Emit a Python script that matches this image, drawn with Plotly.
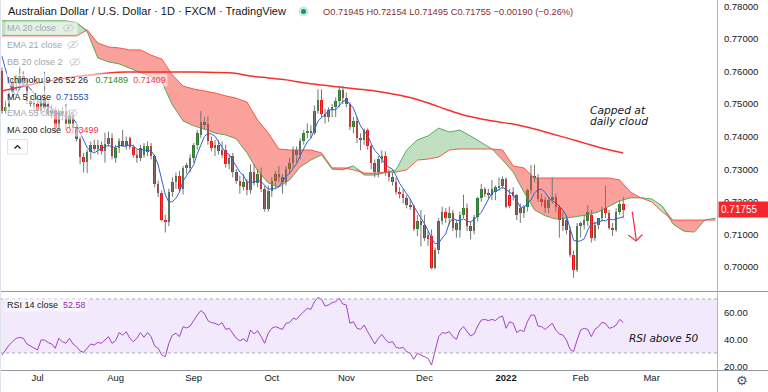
import pandas as pd
import plotly.graph_objects as go

# ---------------- data ----------------
days = pd.bdate_range("2021-06-17", periods=202).strftime("%Y-%m-%d").tolist()

month_ticks = ["2021-07-01", "2021-08-02", "2021-09-01", "2021-10-01", "2021-11-01",
               "2021-12-01", "2022-01-03", "2022-02-01", "2022-03-01"]
month_labels = ["Jul", "Aug", "Sep", "Oct", "Nov", "Dec", "<b>2022</b>", "Feb", "Mar"]

opens = [
    0.7600, 0.7478, 0.7490, 0.7537, 0.7568, 0.7560, 0.7585, 0.7565, 0.7510, 0.7500,
    0.7500, 0.7478, 0.7518, 0.7500, 0.7470, 0.7482, 0.7426, 0.7470, 0.7480, 0.7440,
    0.7465, 0.7430, 0.7392, 0.7338, 0.7322, 0.7353, 0.7374, 0.7362, 0.7375, 0.7355,
    0.7378, 0.7395, 0.7335, 0.7366, 0.7385, 0.7372, 0.7395, 0.7368, 0.7345, 0.7335,
    0.7345, 0.7352, 0.7370, 0.7340, 0.7255, 0.7228, 0.7145, 0.7138, 0.7230, 0.7262,
    0.7280, 0.7240, 0.7305, 0.7305, 0.7335, 0.7375, 0.7405, 0.7445, 0.7440, 0.7385,
    0.7365, 0.7375, 0.7358, 0.7360, 0.7315, 0.7340, 0.7290, 0.7265, 0.7245, 0.7262,
    0.7235, 0.7292, 0.7258, 0.7285, 0.7240, 0.7178, 0.7232, 0.7265, 0.7285, 0.7275,
    0.7262, 0.7300, 0.7318, 0.7360, 0.7345, 0.7385, 0.7412, 0.7418, 0.7412, 0.7480,
    0.7512, 0.7470, 0.7460, 0.7482, 0.7490, 0.7508, 0.7542, 0.7518, 0.7500, 0.7430,
    0.7448, 0.7395, 0.7390, 0.7420, 0.7370, 0.7318, 0.7290, 0.7332, 0.7342, 0.7290,
    0.7275, 0.7262, 0.7230, 0.7225, 0.7212, 0.7190, 0.7186, 0.7117, 0.7140, 0.7130,
    0.7098, 0.7095, 0.6998, 0.7052, 0.7140, 0.7170, 0.7150, 0.7165, 0.7135, 0.7115,
    0.7160, 0.7180, 0.7125, 0.7110, 0.7153, 0.7211, 0.7239, 0.7228, 0.7222, 0.7230,
    0.7245, 0.7250, 0.7270, 0.7220, 0.7230, 0.7221, 0.7181, 0.7166, 0.7184, 0.7235,
    0.7280, 0.7272, 0.7210, 0.7206, 0.7180, 0.7205, 0.7215, 0.7185, 0.7150, 0.7145,
    0.7114, 0.7037, 0.6990, 0.7125, 0.7130, 0.7140, 0.7160, 0.7088, 0.7130, 0.7150,
    0.7181, 0.7165, 0.7120, 0.7112, 0.7168, 0.71945,
]
highs = [
    0.7612, 0.7510, 0.7545, 0.7575, 0.7590, 0.7617, 0.7600, 0.7575, 0.7525, 0.7525,
    0.7510, 0.7525, 0.7599, 0.7510, 0.7495, 0.7490, 0.7485, 0.7490, 0.7500, 0.7480,
    0.7475, 0.7440, 0.7400, 0.7350, 0.7360, 0.7385, 0.7390, 0.7390, 0.7385, 0.7412,
    0.7415, 0.7410, 0.7375, 0.7395, 0.7420, 0.7400, 0.7400, 0.7375, 0.7360, 0.7375,
    0.7380, 0.7385, 0.7380, 0.7345, 0.7265, 0.7235, 0.7160, 0.7240, 0.7275, 0.7290,
    0.7295, 0.7310, 0.7320, 0.7345, 0.7380, 0.7420, 0.7478, 0.7460, 0.7462, 0.7400,
    0.7390, 0.7390, 0.7385, 0.7375, 0.7345, 0.7350, 0.7300, 0.7280, 0.7285, 0.7270,
    0.7315, 0.7315, 0.7300, 0.7305, 0.7250, 0.7250, 0.7275, 0.7295, 0.7310, 0.7285,
    0.7310, 0.7335, 0.7370, 0.7370, 0.7395, 0.7420, 0.7440, 0.7435, 0.7495, 0.7545,
    0.7545, 0.7485, 0.7490, 0.7500, 0.7520, 0.7556, 0.7556, 0.7535, 0.7505, 0.7460,
    0.7460, 0.7410, 0.7425, 0.7425, 0.7375, 0.7330, 0.7340, 0.7358, 0.7355, 0.7300,
    0.7290, 0.7275, 0.7245, 0.7240, 0.7220, 0.7210, 0.7192, 0.7160, 0.7175, 0.7160,
    0.7110, 0.7115, 0.7060, 0.7150, 0.7185, 0.7180, 0.7185, 0.7175, 0.7145, 0.7170,
    0.7222, 0.7195, 0.7140, 0.7160, 0.7215, 0.7255, 0.7245, 0.7240, 0.7267, 0.7250,
    0.7275, 0.7278, 0.7275, 0.7240, 0.7245, 0.7225, 0.7195, 0.7190, 0.7240, 0.7313,
    0.7314, 0.7285, 0.7225, 0.7215, 0.7215, 0.7275, 0.7225, 0.7190, 0.7170, 0.7160,
    0.7125, 0.7050, 0.7135, 0.7140, 0.7160, 0.7190, 0.7175, 0.7140, 0.7150, 0.7185,
    0.7250, 0.7175, 0.7135, 0.7180, 0.7205, 0.72154,
]
lows = [
    0.7470, 0.7470, 0.7480, 0.7520, 0.7540, 0.7550, 0.7555, 0.7500, 0.7490, 0.7480,
    0.7470, 0.7470, 0.7480, 0.7465, 0.7455, 0.7410, 0.7420, 0.7450, 0.7420, 0.7425,
    0.7415, 0.7385, 0.7315, 0.7290, 0.7288, 0.7330, 0.7355, 0.7345, 0.7345, 0.7320,
    0.7370, 0.7330, 0.7320, 0.7350, 0.7368, 0.7360, 0.7360, 0.7335, 0.7320, 0.7325,
    0.7335, 0.7340, 0.7330, 0.7245, 0.7215, 0.7140, 0.7106, 0.7125, 0.7215, 0.7240,
    0.7230, 0.7222, 0.7285, 0.7290, 0.7320, 0.7360, 0.7395, 0.7420, 0.7375, 0.7355,
    0.7340, 0.7345, 0.7335, 0.7305, 0.7300, 0.7275, 0.7255, 0.7225, 0.7235, 0.7220,
    0.7225, 0.7250, 0.7245, 0.7230, 0.7170, 0.7170, 0.7215, 0.7240, 0.7260, 0.7225,
    0.7250, 0.7285, 0.7305, 0.7320, 0.7330, 0.7375, 0.7395, 0.7395, 0.7405, 0.7470,
    0.7460, 0.7440, 0.7445, 0.7460, 0.7460, 0.7490, 0.7500, 0.7490, 0.7420, 0.7410,
    0.7380, 0.7358, 0.7375, 0.7360, 0.7300, 0.7275, 0.7275, 0.7318, 0.7280, 0.7262,
    0.7250, 0.7222, 0.7210, 0.7195, 0.7180, 0.7175, 0.7110, 0.7095, 0.7063, 0.7080,
    0.7065, 0.6993, 0.6993, 0.7040, 0.7130, 0.7135, 0.7130, 0.7110, 0.7090, 0.7090,
    0.7150, 0.7110, 0.7085, 0.7100, 0.7140, 0.7200, 0.7215, 0.7210, 0.7205, 0.7205,
    0.7235, 0.7240, 0.7180, 0.7180, 0.7205, 0.7144, 0.7135, 0.7150, 0.7170, 0.7225,
    0.7260, 0.7200, 0.7185, 0.7165, 0.7165, 0.7195, 0.7170, 0.7090, 0.7110, 0.7100,
    0.7030, 0.6967, 0.6985, 0.7090, 0.7115, 0.7125, 0.7075, 0.7080, 0.7115, 0.7140,
    0.7150, 0.7115, 0.7095, 0.7108, 0.7160, 0.71495,
]
closes = [
    0.7478, 0.7490, 0.7535, 0.7568, 0.7560, 0.7585, 0.7570, 0.7510, 0.7500, 0.7502,
    0.7478, 0.7518, 0.7488, 0.7470, 0.7482, 0.7426, 0.7475, 0.7480, 0.7440, 0.7465,
    0.7425, 0.7392, 0.7338, 0.7322, 0.7353, 0.7374, 0.7362, 0.7375, 0.7355, 0.7378,
    0.7395, 0.7340, 0.7366, 0.7385, 0.7372, 0.7388, 0.7368, 0.7345, 0.7335, 0.7365,
    0.7370, 0.7372, 0.7340, 0.7255, 0.7228, 0.7145, 0.7138, 0.7230, 0.7262, 0.7280,
    0.7240, 0.7305, 0.7312, 0.7335, 0.7375, 0.7410, 0.7445, 0.7435, 0.7385, 0.7365,
    0.7375, 0.7355, 0.7345, 0.7315, 0.7335, 0.7290, 0.7265, 0.7250, 0.7262, 0.7235,
    0.7292, 0.7258, 0.7285, 0.7240, 0.7178, 0.7232, 0.7265, 0.7285, 0.7275, 0.7262,
    0.7300, 0.7318, 0.7360, 0.7345, 0.7385, 0.7412, 0.7418, 0.7412, 0.7480, 0.7512,
    0.7470, 0.7460, 0.7482, 0.7490, 0.7508, 0.7542, 0.7518, 0.7500, 0.7430, 0.7448,
    0.7395, 0.7390, 0.7420, 0.7370, 0.7318, 0.7290, 0.7332, 0.7342, 0.7290, 0.7275,
    0.7262, 0.7230, 0.7225, 0.7212, 0.7190, 0.7186, 0.7117, 0.7140, 0.7130, 0.7090,
    0.7085, 0.6998, 0.7052, 0.7140, 0.7170, 0.7150, 0.7165, 0.7120, 0.7115, 0.7160,
    0.7180, 0.7125, 0.7110, 0.7153, 0.7211, 0.7239, 0.7225, 0.7222, 0.7238, 0.7245,
    0.7250, 0.7270, 0.7185, 0.7188, 0.7218, 0.7160, 0.7166, 0.7184, 0.7235, 0.7280,
    0.7272, 0.7210, 0.7200, 0.7180, 0.7205, 0.7215, 0.7185, 0.7145, 0.7125, 0.7115,
    0.7037, 0.6990, 0.7125, 0.7135, 0.7145, 0.7170, 0.7088, 0.7130, 0.7150, 0.7175,
    0.7165, 0.7120, 0.7112, 0.7168, 0.71945, 0.71755,
]
# closes of the four sessions before the first visible bar (MA 5 warm-up)
prior_closes = [0.7720, 0.7715, 0.7695, 0.7625]

# MA 200, read every 5th bar
ma200 = [0.7540, 0.7552, 0.7564, 0.7574, 0.7583, 0.7589, 0.7595, 0.7598, 0.7598, 0.7598,
         0.7598, 0.7598, 0.7597, 0.7595, 0.7586, 0.7580, 0.7574, 0.7565, 0.7558, 0.7552,
         0.7546, 0.7540, 0.7531, 0.7520, 0.7503, 0.7484, 0.7466, 0.7454, 0.7445, 0.7436,
         0.7423, 0.7408, 0.7393, 0.7377, 0.7362, 0.73499]

# Ichimoku leading spans (shifted 26 bars ahead), read every 3rd bar
span_a = [0.7755, 0.7755, 0.7755, 0.7755, 0.7755, 0.7755, 0.7755, 0.7750,
          0.7722, 0.7641, 0.7629, 0.7623, 0.7610, 0.7598, 0.7583, 0.7568,
          0.7497, 0.7448, 0.7433, 0.7423, 0.7411, 0.7405, 0.7393, 0.7350,
          0.7295, 0.7258, 0.7245, 0.7267, 0.7307, 0.7328, 0.7344, 0.7300,
          0.7298, 0.7310, 0.7282, 0.7282, 0.7291, 0.7298, 0.7359, 0.7390,
          0.7402, 0.7426, 0.7414, 0.7420, 0.7402, 0.7383, 0.7362, 0.7328,
          0.7291, 0.7230, 0.7175, 0.7157, 0.7147, 0.7150, 0.7154, 0.7160,
          0.7169, 0.7187, 0.7203, 0.7212, 0.7212, 0.7209, 0.7187, 0.7132,
          0.7110, 0.7107, 0.7144, 0.7150]
span_b = [0.7709, 0.7709, 0.7709, 0.7709, 0.7709, 0.7709, 0.7709, 0.7709,
          0.7727, 0.7687, 0.7675, 0.7672, 0.7666, 0.7666, 0.7650, 0.7638,
          0.7589, 0.7555, 0.7546, 0.7540, 0.7534, 0.7525, 0.7518, 0.7506,
          0.7451, 0.7411, 0.7362, 0.7359, 0.7359, 0.7359, 0.7350, 0.7304,
          0.7304, 0.7298, 0.7288, 0.7288, 0.7291, 0.7291, 0.7298, 0.7328,
          0.7331, 0.7337, 0.7359, 0.7362, 0.7362, 0.7362, 0.7362, 0.7359,
          0.7310, 0.7304, 0.7273, 0.7273, 0.7273, 0.7273, 0.7273, 0.7273,
          0.7273, 0.7273, 0.7267, 0.7230, 0.7212, 0.7200, 0.7169, 0.7144,
          0.7144, 0.7144, 0.7144, 0.7144]

rsi = [
    28.5, 32.5, 35.9, 38.4, 40.9, 41.6, 40.9, 36.7, 35.2, 33.5,
    32.2, 39.6, 39.6, 37.7, 36.7, 33.5, 40.9, 38.4, 37.2, 40.9,
    36.7, 34.7, 31.5, 30.5, 33.5, 36.7, 35.9, 37.9, 37.2, 39.6,
    42.1, 37.2, 39.1, 45.1, 43.3, 45.8, 40.9, 38.4, 40.9, 45.1,
    41.6, 45.1, 42.1, 35.2, 33.5, 28.5, 27.3, 37.2, 43.3, 44.6,
    42.1, 49.5, 48.5, 50.0, 54.4, 58.1, 61.4, 59.4, 54.0, 52.5,
    52.0, 50.7, 52.5, 47.5, 48.3, 44.6, 40.9, 39.1, 40.5, 38.4,
    47.0, 44.1, 46.5, 42.1, 37.2, 44.6, 48.3, 49.5, 48.3, 47.5,
    52.0, 52.5, 55.7, 55.0, 58.1, 60.6, 63.1, 62.3, 68.0, 71.2,
    69.8, 64.8, 65.6, 67.3, 68.0, 70.5, 66.3, 65.6, 52.0, 53.2,
    48.3, 47.5, 50.7, 45.8, 40.9, 36.7, 40.9, 43.8, 40.1, 37.7,
    38.4, 34.2, 33.5, 34.2, 31.0, 29.8, 25.3, 29.8, 28.5, 27.3,
    26.0, 21.1, 31.0, 42.1, 45.1, 44.6, 45.8, 42.1, 40.1, 47.0,
    49.5, 45.8, 42.6, 44.1, 50.0, 54.4, 54.9, 54.0, 54.9, 54.0,
    56.4, 57.4, 48.3, 53.2, 52.0, 45.1, 47.0, 45.8, 53.2, 58.1,
    58.1, 50.0, 49.5, 47.5, 50.0, 52.0, 47.0, 44.1, 43.3, 39.6,
    32.7, 31.0, 39.6, 47.0, 48.3, 47.5, 42.1, 47.5, 49.5, 52.7,
    52.0, 48.3, 49.0, 50.7, 54.9, 52.58,
]

price_ticks = [0.70, 0.71, 0.72, 0.73, 0.74, 0.75, 0.76, 0.77, 0.78]
rsi_ticks = [20, 40, 60]

# ---------------- derived ----------------
n = len(closes)
bar_days = days[:n]
cloud_days = days[::3]
ma200_days = days[:n:5]
ma5 = pd.Series(prior_closes + closes).rolling(5).mean().tolist()[len(prior_closes):]
cloud_top = [max(a, b) for a, b in zip(span_a, span_b)]
body_base = [min(o, c) for o, c in zip(opens, closes)]
body_len = [max(abs(c - o), 0.00004) for o, c in zip(opens, closes)]
body_col = ["#2B7B30" if c >= o else "#EE1111" for o, c in zip(opens, closes)]
wick_x, wick_y = [], []
for d, h, l in zip(bar_days, highs, lows):
    wick_x += [d, d, None]
    wick_y += [l, h, None]

# ---------------- figure ----------------
PW, PH = 717, 370


def fx(x):
    return x / PW


def fy(y):
    return (PH - y) / PH


fig = go.Figure()
skip = dict(hoverinfo="skip", showlegend=False)
fig.add_trace(go.Scatter(x=cloud_days, y=span_b, mode="lines", line=dict(width=0), **skip))
fig.add_trace(go.Scatter(x=cloud_days, y=cloud_top, mode="lines", line=dict(width=0),
                         fill="tonexty", fillcolor="rgba(67,160,71,0.33)", **skip))
fig.add_trace(go.Scatter(x=cloud_days, y=span_a, mode="lines", line=dict(width=0), **skip))
fig.add_trace(go.Scatter(x=cloud_days, y=cloud_top, mode="lines", line=dict(width=0),
                         fill="tonexty", fillcolor="rgba(244,67,54,0.5)", **skip))
fig.add_trace(go.Scatter(x=cloud_days, y=span_a, mode="lines",
                         line=dict(width=1, color="rgba(67,160,71,0.85)"), **skip))
fig.add_trace(go.Scatter(x=cloud_days, y=span_b, mode="lines",
                         line=dict(width=1, color="rgba(244,67,54,0.85)"), **skip))
fig.add_trace(go.Scatter(x=ma200_days, y=ma200, mode="lines",
                         line=dict(width=1.5, color="#F5302A", shape="spline"), **skip))
fig.add_trace(go.Scatter(x=wick_x, y=wick_y, mode="lines",
                         line=dict(width=1, color="#767676"), **skip))
fig.add_trace(go.Bar(x=bar_days, y=body_len, base=body_base, width=0.72,
                     marker=dict(color=body_col, line=dict(width=0)), **skip))
fig.add_trace(go.Scatter(x=bar_days, y=ma5, mode="lines",
                         line=dict(width=1, color="#2F62CC"), **skip))
fig.add_trace(go.Scatter(x=bar_days, y=rsi, mode="lines", xaxis="x2", yaxis="y2",
                         line=dict(width=1, color="#A542C6"), **skip))

axis_font = dict(family="Liberation Sans, Arial, sans-serif", size=9.5, color="#131722")
xr = [-0.563, 201.41]
fig.update_layout(
    width=768, height=392, margin=dict(l=0, r=51, t=0, b=22, autoexpand=False),
    paper_bgcolor="white", plot_bgcolor="white", showlegend=False, hovermode=False,
    bargap=0,
    xaxis=dict(type="category", categoryorder="array", categoryarray=days, range=xr,
               showticklabels=False, showgrid=False, zeroline=False, showline=False,
               ticks="", anchor="y", domain=[0, 1], automargin=False),
    xaxis2=dict(type="category", categoryorder="array", categoryarray=days, range=xr,
                tickmode="array", tickvals=month_ticks, ticktext=month_labels,
                tickfont=axis_font, showgrid=False, zeroline=False, showline=False,
                ticks="", anchor="y2", domain=[0, 1], automargin=False),
    yaxis=dict(domain=[(PH - 291) / PH, 1], range=[0.692638, 0.781902], side="right",
               tickmode="array", tickvals=price_ticks, tickformat=".5f", tickfont=axis_font,
               showgrid=False, zeroline=False, showline=False, ticks="outside", ticklen=4,
               tickcolor="rgba(0,0,0,0)", anchor="x", automargin=False),
    yaxis2=dict(domain=[0, 78 / PH], range=[17.41, 75.19], side="right",
                tickmode="array", tickvals=rsi_ticks, tickformat=".2f", tickfont=axis_font,
                showgrid=False, zeroline=False, showline=False, ticks="outside", ticklen=4,
                tickcolor="rgba(0,0,0,0)", anchor="x2", automargin=False),
)

shapes = []
# RSI band and levels
shapes.append(dict(type="rect", xref="x2 domain", yref="y2", x0=0, x1=1, y0=30, y1=70,
                   fillcolor="rgba(149,76,233,0.12)", line=dict(width=0), layer="below"))
for lvl in (70, 30):
    shapes.append(dict(type="line", xref="x2 domain", yref="y2", x0=0, x1=1, y0=lvl, y1=lvl,
                       line=dict(color="#A9ABB4", width=1, dash="3px,3px")))
# pane separators / frame
sep = "#9598A1"
shapes.append(dict(type="line", xref="paper", yref="paper", x0=0, x1=768 / PW,
                   y0=fy(291.5), y1=fy(291.5), line=dict(color=sep, width=1)))
shapes.append(dict(type="line", xref="paper", yref="paper", x0=0, x1=768 / PW,
                   y0=fy(370.5), y1=fy(370.5), line=dict(color=sep, width=1)))
shapes.append(dict(type="line", xref="paper", yref="paper", x0=fx(717.5), x1=fx(717.5),
                   y0=fy(392), y1=fy(0), line=dict(color="#B2B5BE", width=1)))
shapes.append(dict(type="line", xref="paper", yref="paper", x0=fx(0.5), x1=fx(0.5),
                   y0=fy(392), y1=fy(0), line=dict(color="#E0E3EB", width=1)))
# status dot
shapes.append(dict(type="circle", xref="paper", yref="paper", x0=fx(298.5), x1=fx(308.5),
                   y0=fy(16.5), y1=fy(6.5), fillcolor="rgba(8,153,129,0.22)", line=dict(width=0)))
shapes.append(dict(type="circle", xref="paper", yref="paper", x0=fx(301), x1=fx(306),
                   y0=fy(14), y1=fy(9), fillcolor="#089981", line=dict(width=0)))
# hidden-indicator eye icons
for cx, cy in [(68.5, 28), (73, 44.5), (75, 62), (72, 113)]:
    shapes.append(dict(type="circle", xref="paper", yref="paper", x0=fx(cx - 5), x1=fx(cx + 5),
                       y0=fy(cy + 3), y1=fy(cy - 3), line=dict(color="#8A8D96", width=1)))
    shapes.append(dict(type="circle", xref="paper", yref="paper", x0=fx(cx - 1.3), x1=fx(cx + 1.3),
                       y0=fy(cy + 1.3), y1=fy(cy - 1.3), fillcolor="#8A8D96", line=dict(width=0)))
    shapes.append(dict(type="line", xref="paper", yref="paper", x0=fx(cx + 4.5), x1=fx(cx - 4.5),
                       y0=fy(cy - 4.5), y1=fy(cy + 4.5), line=dict(color="#8A8D96", width=1)))
# collapse button
shapes.append(dict(type="rect", xref="paper", yref="paper", x0=fx(7.5), x1=fx(27.5),
                   y0=fy(154), y1=fy(139.5), fillcolor="white", line=dict(color="#E0E3EB", width=1)))
shapes.append(dict(type="path", xref="paper", yref="paper",
                   path=f"M {fx(14.5)} {fy(148.5)} L {fx(17.5)} {fy(145.5)} L {fx(20.5)} {fy(148.5)}",
                   line=dict(color="#131722", width=1.2)))
# red hand-drawn arrow
shapes.append(dict(type="path", xref="paper", yref="paper",
                   path=f"M {fx(632.3)} {fy(211.7)} L {fx(636.3)} {fy(240.5)}",
                   line=dict(color="#F23645", width=1.3)))
shapes.append(dict(type="path", xref="paper", yref="paper",
                   path=f"M {fx(628.3)} {fy(235)} L {fx(636)} {fy(241)} L {fx(642.5)} {fy(234.5)}",
                   line=dict(color="#F23645", width=1.3)))
fig.update_layout(shapes=shapes)

ann = []
LF = "Liberation Sans, Arial, sans-serif"


def label(x, y, text, size=9, color="#131722", bg=None, family=LF, **kw):
    d = dict(xref="paper", yref="paper", x=fx(x), y=fy(y), text=text, showarrow=False,
             xanchor="left", yanchor="middle", font=dict(family=family, size=size, color=color),
             borderpad=1)
    if bg:
        d["bgcolor"] = bg
    d.update(kw)
    ann.append(d)


NB = "\u00a0"
ROWBG = "rgba(255,255,255,0.55)"
GREY = "#A3A6AF"
label(6, 11, "Australian Dollar / U.S. Dollar · 1D · FXCM · TradingView", size=11)
label(321, 11.5, "O0.71945 H0.72154 L0.71495 C0.71755 −0.00190 (−0.26%)", size=9.3, color="#8B2E2E")
label(5, 28, "MA 20 close" + NB * 8, color=GREY, bg=ROWBG)
label(5, 44.5, "EMA 21 close" + NB * 8, color=GREY, bg=ROWBG)
label(5, 62, "BB 20 close 2" + NB * 8, color=GREY, bg=ROWBG)
label(5, 79.5, "Ichimoku 9 26 52 26" + NB * 3 + '<span style="color:#2E8B32">0.71489</span>'
      + NB * 2 + '<span style="color:#F23645">0.71409</span>', bg=ROWBG)
label(5, 96.5, "MA 5 close" + NB * 2 + '<span style="color:#1E50B8">0.71553</span>', bg=ROWBG)
label(5, 113, "EMA 55 close" + NB * 8, color=GREY, bg=ROWBG)
label(5, 130, "MA 200 close" + NB * 2 + '<span style="color:#F23645">0.73499</span>', bg=ROWBG)
label(5, 305, "RSI 14 close" + NB * 2 + '<span style="color:#9C27B0">52.58</span>', bg=ROWBG)
label(588, 110.5, "<i>Capped at</i>", size=10.7, family="DejaVu Sans, sans-serif")
label(588, 121.5, "<i>daily cloud</i>", size=10.7, family="DejaVu Sans, sans-serif")
label(627, 338, "<i>RSI above 50</i>", size=10.5, family="DejaVu Sans, sans-serif")
ann.append(dict(xref="paper", yref="y", x=1, y=0.71755, text="0.71755", showarrow=False,
                xanchor="left", yanchor="middle", xshift=1, bgcolor="#F7262E", borderpad=2,
                width=46, align="left",
                font=dict(family=LF, size=10, color="white")))
ann.append(dict(xref="paper", yref="paper", x=fx(742), y=fy(380), text="⚙", showarrow=False,
                xanchor="center", yanchor="middle",
                font=dict(family="DejaVu Sans, sans-serif", size=13, color="#50535E")))
fig.update_layout(annotations=ann)

fig.write_html(
    "out.html",
    config={"displayModeBar": False},
    post_script="document.body.style.margin='0px';document.body.style.overflow='hidden';",
)
